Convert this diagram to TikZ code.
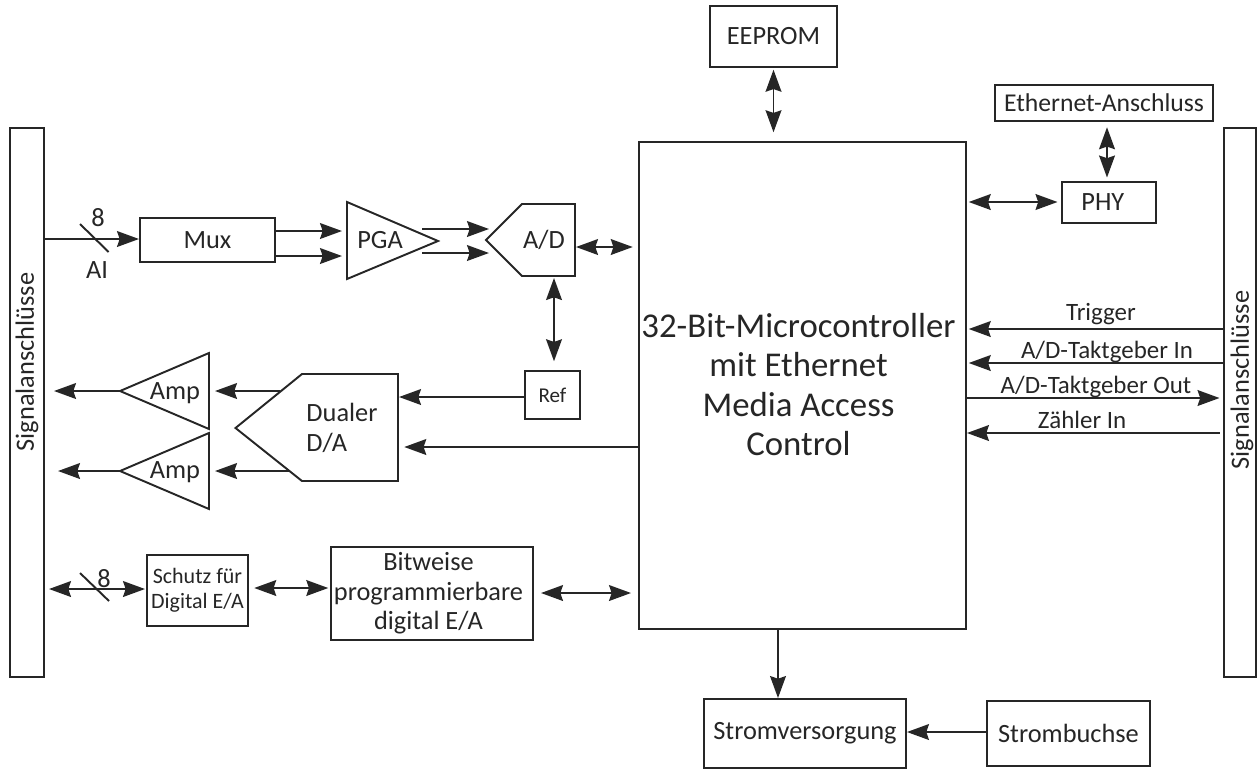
\documentclass[tikz,border=0pt]{standalone}
\usepackage{fontspec}
\setmainfont{Carlito}
\usetikzlibrary{arrows.meta}
\usetikzlibrary{calc}

\begin{document}
\begin{tikzpicture}[x=0.02cm, y=-0.02cm, >={Stealth[length=12.5pt,width=9pt,inset=1.5pt]},
line width=1.1pt, color=black!85, text=black!85,
blockbox/.style 2 args={draw, inner sep=0pt, align=center, font=\labelsize,
    minimum width=#1*0.02cm, minimum height=#2*0.02cm},
labeltext/.style={inner sep=0pt, align=center, font=\labelsize},
signaltext/.style={labeltext, font=\fontsize{14.2}{16}\selectfont},
gap/.style={shorten >=#1},
gap/.default=3pt]
\newcommand{\labelsize}{\fontsize{15}{16.8}\selectfont}

    \useasboundingbox (0,0) rectangle (1257,769);

    % side connectors
    \node[blockbox={34}{549}] (leftbar) at (27,402.5) {};
    \node[blockbox={32}{549}] (rightbar) at (1240,402.5) {};
    \node[labeltext, rotate=90] (leftlabel) at (27,362) {Signalanschlüsse};
    \node[labeltext, rotate=90] (rightlabel) at (1242,380) {Signalanschlüsse};

    % boxes
    \node[blockbox={327}{487}] (mcu) at (802.5,385.5) {};
    \node[labeltext, font=\fontsize{19.8}{22.3}\selectfont] (mculabel) at (798.5,384.5) {32-Bit-Microcontroller\\mit Ethernet\\Media Access\\Control};
    \node[blockbox={127}{61}] (eeprom) at (773.5,36.5) {EEPROM};
    \node[blockbox={218}{36}, font=\fontsize{14.6}{16}\selectfont] (ethernet) at (1104,103) {Ethernet-Anschluss};
    \node[blockbox={94}{41}] (phy) at (1109,202.5) {\hspace*{-7pt}PHY};
    \node[blockbox={135}{44}] (mux) at (207.5,240) {Mux};
    \node[blockbox={55}{48}, font=\fontsize{12}{14}\selectfont] (ref) at (552.5,395) {Ref};
    \node[blockbox={101}{71}, font=\fontsize{12.5}{14.2}\selectfont] (schutz) at (197.5,590.5) {Schutz für\\Digital E/A};
    \node[blockbox={202}{93}] (bitweise) at (432,593.5) {\hspace*{-4pt}Bitweise\\\hspace*{-4pt}programmierbare\\\hspace*{-4pt}digital E/A};
    \node[blockbox={202}{69}] (strom) at (805,733.5) {Stromversorgung};
    \node[blockbox={163}{65}] (buchse) at (1068.5,733.5) {Strombuchse};

    % amplifiers and converters
    \draw (347,202) -- (347,279) -- (438,241) -- cycle;
    \draw (486,240) -- (522,204) -- (575,204) -- (575,276) -- (522,276) -- cycle;
    \draw (235.5,428) -- (302,374) -- (398,374) -- (398,481) -- (302,481) -- cycle;
    \draw (120,391) -- (209,353) -- (209,429) -- cycle;
    \draw (120,471) -- (209,433) -- (209,509) -- cycle;

    \node[labeltext] (pga) at (380,240) {PGA};
    \node[labeltext] (ad) at (544,240) {A/D};
    \node[labeltext, align=left] (da) at (342,428) {Dualer\\D/A};
    \node[labeltext] (ampa) at (175,393) {Amp};
    \node[labeltext] (ampb) at (175,472) {Amp};

    % ports
    \coordinate (muxin) at (139,239);
    \coordinate (pgaina) at (342,231);
    \coordinate (pgainb) at (342,256);
    \coordinate (pgaouta) at (422,229);
    \coordinate (pgaoutb) at (422,253);
    \coordinate (adina) at (489,229);
    \coordinate (adinb) at (489,253);
    \coordinate (adport) at (576,247);
    \coordinate (adbot) at (554,278);
    \coordinate (dain) at (399,397);
    \coordinate (daina) at (399,447);
    \coordinate (daouta) at (280,391);
    \coordinate (daoutb) at (290,471);
    \coordinate (ampina) at (215,391);
    \coordinate (ampinb) at (215,471);
    \coordinate (ampouta) at (120,391);
    \coordinate (ampoutb) at (120,471);
    \coordinate (sigouta) at (54,391);
    \coordinate (sigoutb) at (58,471);

    % analog path
    \draw[->] (leftbar.east |- muxin) -- (muxin);
    \node[labeltext] (ainum) at (98,218) {8};
    \node[labeltext] (ailabel) at (97,270) {AI};
    \draw (80,224) -- (108.6,252);
    \draw[->] (mux.east |- pgaina) -- (pgaina);
    \draw[->] (mux.east |- pgainb) -- (pgainb);
    \draw[->] (pgaouta) -- (adina);
    \draw[->] (pgaoutb) -- (adinb);
    \draw[<->, gap] (adport) -- (mcu.west |- adport);
    \draw[<->] (adbot) -- ([yshift=5pt]ref.north -| adbot);
    \draw[->] (ref.west |- dain) -- (dain);
    \draw[->, gap] (mcu.west |- daina) -- (daina);
    \draw[->] (daouta) -- (ampina);
    \draw[->] (daoutb) -- (ampinb);
    \draw[->] (ampouta) -- (sigouta);
    \draw[->] (ampoutb) -- (sigoutb);

    % digital path
    \coordinate (digita) at (49,589);
    \coordinate (digitb) at (145,589);
    \draw[<->] (digita) -- (digitb);
    \draw (80,573) -- (109,601);
    \node[labeltext] (digitnum) at (104,579) {8};
    \draw[<->, shorten <=3pt, shorten >=1pt] (schutz.east |- 0,588) -- (bitweise.west |- 0,588);
    \draw[<->, shorten <=4pt, gap=4pt] (bitweise.east |- 0,593) -- (mcu.west |- 0,593);

    % right side
    \draw[<->, shorten <=1pt, gap=2pt] (mcu.east |- 0,202) -- (phy.west |- 0,202);
    \draw[<->, shorten <=3pt, gap=2pt] (ethernet.south -| 1107,0) -- (phy.north -| 1107,0);
    \draw[<->, shorten <=1pt, gap=5pt] (eeprom.south) -- (mcu.north -| eeprom.south);
    \draw[->, shorten >=1pt] (rightbar.west |- 0,329) -- (mcu.east |- 0,329);
    \node[signaltext] (trigger) at (1101,314) {Trigger};
    \draw[->, shorten >=1pt] (rightbar.west |- 0,363) -- (mcu.east |- 0,363);
    \node[signaltext] (clockin) at (1107,352) {A/D-Taktgeber In};
    \draw[->, gap=2pt] (mcu.east |- 0,398) -- (rightbar.west |- 0,398);
    \node[signaltext] (clockout) at (1096,387) {A/D-Taktgeber Out};
    \draw[->] ([xshift=-2pt]rightbar.west |- 0,433) -- (mcu.east |- 0,433);
    \node[signaltext] (counter) at (1082,420) {Zähler In};

    % power
    \draw[->] (mcu.south -| 778,0) -- (strom.north -| 778,0);
    \draw[->] (buchse.west |- 0,732) -- (strom.east |- 0,732);

\end{tikzpicture}
\end{document}
